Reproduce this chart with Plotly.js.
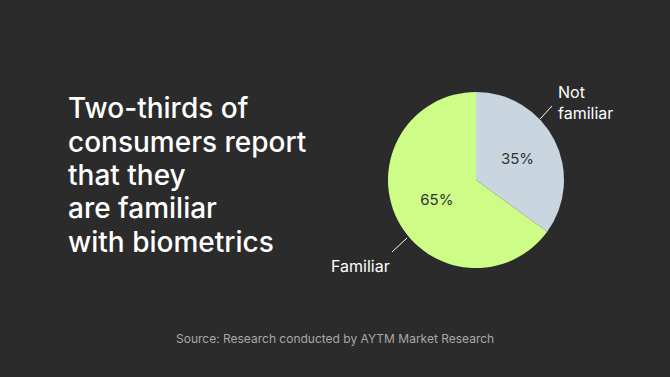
<!DOCTYPE html>
<html>
<head>
<meta charset="utf-8">
<script src="https://cdn.plot.ly/plotly-3.0.1.min.js"></script>
<style>html,body{margin:0;padding:0;background:#2b2b2b;}#chart{width:670px;height:377px;}</style>
</head>
<body>
<div id="chart"></div>
<script>
const categories = ["Not familiar", "Familiar"];
const values = [35, 65];
const sliceColors = ["#c9d5df", "#cdfc87"];
const titleLines = ["Two-thirds of", "consumers report", "that they", "are familiar", "with biometrics"];
const sourceText = "Source: Research conducted by AYTM Market Research";

const W = 670, H = 377;
const cx = 476, cy = 180, R = 88;
const px = x => x / W, py = y => 1 - y / H;
const FONT = "Inter, sans-serif";

const trace = {
  type: "pie",
  labels: categories,
  values: values,
  sort: false,
  direction: "clockwise",
  rotation: 0,
  marker: {colors: sliceColors, line: {width: 0}},
  textposition: "inside",
  insidetextorientation: "horizontal",
  texttemplate: "%{percent:.0%}",
  textfont: {family: FONT, size: 15, color: "#333333"},
  domain: {x: [(cx - R) / W, (cx + R) / W], y: [1 - (cy + R) / H, 1 - (cy - R) / H]},
  hoverinfo: "none"
};

const annotations = titleLines.map((t, i) => ({
  text: t, x: px(66), y: py(108 + i * 33.5), xref: "paper", yref: "paper",
  xanchor: "left", yanchor: "middle", showarrow: false,
  font: {family: FONT, size: 28, color: "#ffffff", weight: 500}
}));

annotations.push(
  {text: "Not<br>familiar", x: px(556), y: py(80), xref: "paper", yref: "paper",
   xanchor: "left", yanchor: "top", align: "left", showarrow: false,
   font: {family: FONT, size: 16, color: "#ffffff"}},
  {text: "Familiar", x: px(329), y: py(254), xref: "paper", yref: "paper",
   xanchor: "left", yanchor: "top", align: "left", showarrow: false,
   font: {family: FONT, size: 16, color: "#ffffff"}},
  {text: sourceText, x: px(335), y: py(338), xref: "paper", yref: "paper",
   xanchor: "center", yanchor: "middle", showarrow: false,
   font: {family: FONT, size: 12, color: "#a8a8a8"}}
);

const layout = {
  width: W, height: H,
  margin: {l: 0, r: 0, t: 0, b: 0},
  paper_bgcolor: "#2b2b2b",
  plot_bgcolor: "#2b2b2b",
  showlegend: false,
  annotations: annotations,
  shapes: [
    {type: "line", xref: "paper", yref: "paper", x0: px(540), y0: py(119), x1: px(552), y1: py(106),
     line: {color: "#ffffff", width: 1}},
    {type: "line", xref: "paper", yref: "paper", x0: px(407), y0: py(238), x1: px(392), y1: py(252),
     line: {color: "#ffffff", width: 1}}
  ]
};

Plotly.newPlot("chart", [trace], layout, {displayModeBar: false, staticPlot: true});
</script>
</body>
</html>
